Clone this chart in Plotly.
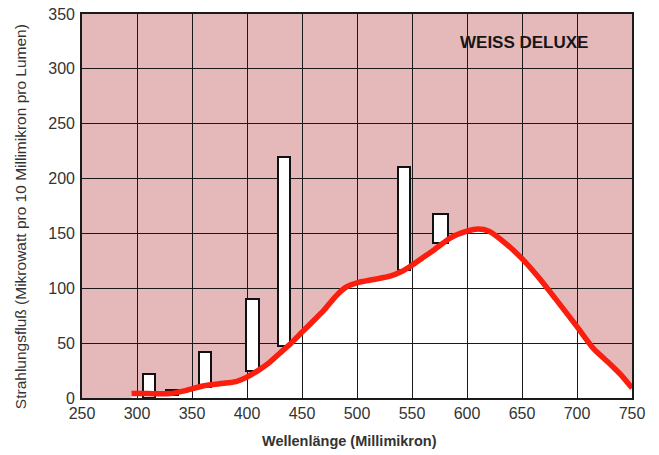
import plotly.graph_objects as go

# Spectral curve (continuous spectrum)
curve_x = [295, 310, 330, 345, 360, 375, 390, 400, 410, 420, 430, 440, 450, 460, 470,
           480, 490, 500, 515, 530, 540, 550, 560, 570, 585, 600, 610, 620, 635, 650,
           665, 680, 700, 715, 730, 740, 750]
curve_y = [4, 4, 4, 7, 11, 13, 15, 19, 25, 32, 41, 50, 60, 70, 80,
           92, 101, 105, 108, 111, 115, 121, 128, 135, 146, 152, 154, 152, 141, 127,
           110, 91, 65, 45, 31, 21, 9]

# Mercury lines (bars)
bar_x = [311, 332, 362, 405, 433.5, 543, 576]
bar_top = [22, 7, 42, 90, 220, 211, 168]
bar_base = [0, 3, 10, 25, 47, 117, 141]
bar_width = [11, 11, 11, 11, 11, 11, 13]

x_ticks = [250, 300, 350, 400, 450, 500, 550, 600, 650, 700, 750]
y_ticks = [0, 50, 100, 150, 200, 250, 300, 350]

title_x = "Wellenlänge (Millimikron)"
title_y = "Strahlungsfluß (Mikrowatt pro 10 Millimikron pro Lumen)"
label = "WEISS DELUXE"

PINK = "#e5b8ba"
FONT = "Liberation Sans, Arial, sans-serif"

fig = go.Figure()

fig.add_trace(go.Bar(
    x=bar_x,
    y=[t - b for t, b in zip(bar_top, bar_base)],
    base=bar_base,
    width=bar_width,
    marker=dict(color="white", line=dict(color="#111111", width=2)),
    showlegend=False,
    hoverinfo="skip",
))

fig.add_trace(go.Scatter(
    x=curve_x, y=curve_y, mode="lines",
    line=dict(color="#fa1e0e", width=5.5, shape="spline", smoothing=0.6),
    showlegend=False, hoverinfo="skip",
))

# white area under the curve, drawn beneath grid lines
path = "M {},0 ".format(curve_x[0])
path += " ".join("L {},{}".format(x, y) for x, y in zip(curve_x, curve_y))
path += " L {},0 Z".format(curve_x[-1])
fig.add_shape(type="path", path=path, xref="x", yref="y", layer="below",
              fillcolor="white", line=dict(width=0))

fig.add_annotation(x=652, y=324, xref="x", yref="y", text="<b>" + label + "</b>",
                   showarrow=False, font=dict(family=FONT, size=17, color="#161616"))

fig.add_annotation(x=0.487, y=-0.112, xref="paper", yref="paper", text="<b>" + title_x + "</b>",
                   showarrow=False, font=dict(family=FONT, size=14.5, color="#333333"),
                   xanchor="center", yanchor="middle")
fig.add_annotation(x=-0.1127, y=0.471, xref="paper", yref="paper", text=title_y,
                   showarrow=False, textangle=-90,
                   font=dict(family=FONT, size=15.5, color="#333333"),
                   xanchor="center", yanchor="middle")

fig.update_xaxes(range=[250, 750], tickvals=x_ticks, ticktext=[str(v) for v in x_ticks],
                 showgrid=True, gridcolor="#1a1a1a", gridwidth=1.3,
                 showline=True, linecolor="#1a1a1a", linewidth=1.6, mirror=True,
                 zeroline=False, ticks="", ticklabelstandoff=0, ticklabeloverflow="allow",
                 automargin=False,
                 tickfont=dict(family=FONT, size=16, color="#333333"))
fig.update_yaxes(range=[0, 350], tickvals=y_ticks, ticktext=[str(v) for v in y_ticks],
                 showgrid=True, gridcolor="#1a1a1a", gridwidth=1.3,
                 showline=True, linecolor="#1a1a1a", linewidth=1.6, mirror=True,
                 zeroline=False, ticks="", ticklabelstandoff=2, ticklabeloverflow="allow",
                 automargin=False,
                 tickfont=dict(family=FONT, size=16, color="#333333"))

fig.update_layout(
    width=659, height=455,
    margin=dict(l=82, r=27, t=14, b=57),
    plot_bgcolor=PINK, paper_bgcolor="white",
    bargap=0,
)

# remove the default page margin so the figure fills the window exactly
fig.write_html("out.html", config={"displayModeBar": False},
               post_script="document.body.style.margin='0';")
